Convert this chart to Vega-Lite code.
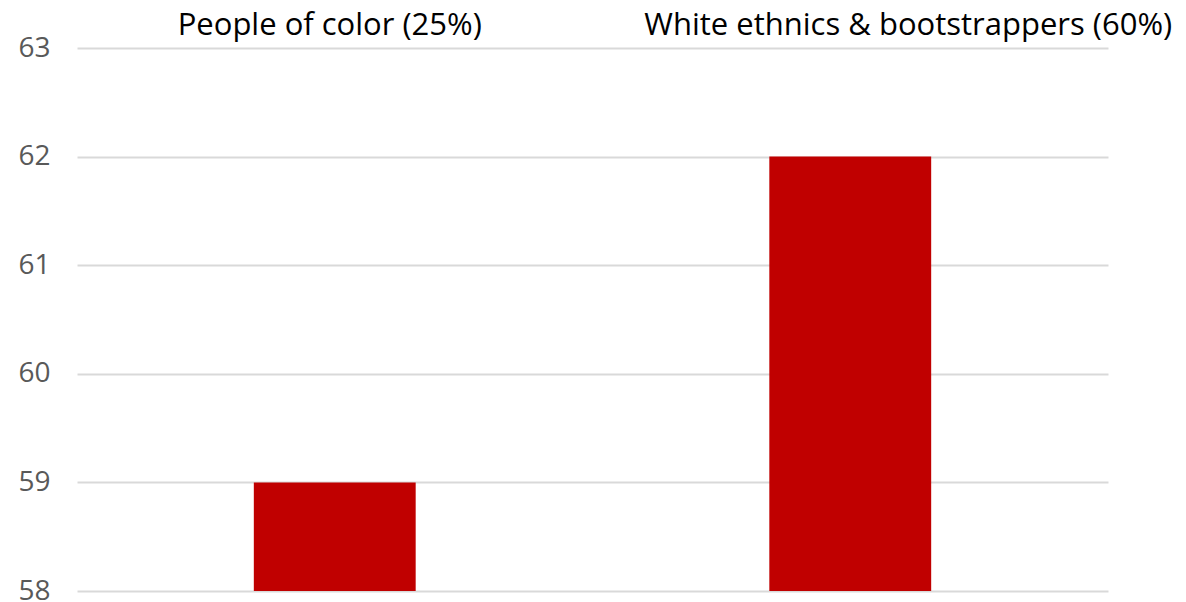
{
  "$schema": "https://vega.github.io/schema/vega-lite/v6.json",
  "width": 1031,
  "height": 543,
  "autosize": {"type": "none"},
  "padding": {"left": 77, "top": 48, "right": 78, "bottom": 11},
  "background": "white",
  "config": {"view": {"stroke": null}, "font": "Open Sans"},
  "data": {"values": [
    {"group": "People of color (25%)", "value": 59},
    {"group": "White ethnics & bootstrappers (60%)", "value": 62}
  ]},
  "mark": {"type": "bar", "color": "#C00000"},
  "encoding": {
    "x": {
      "field": "group", "type": "nominal", "sort": null,
      "scale": {"paddingInner": 0.686, "paddingOuter": 0.343},
      "axis": {
        "orient": "top", "title": null, "domain": false, "ticks": false, "labelAngle": 0,
        "labelFont": "Open Sans", "labelFontSize": 31, "labelFontWeight": 400, "labelColor": "#000000", "labelPadding": 7,
        "labelLimit": 0, "labelOverlap": false,
        "labelOffset": {"condition": {"test": "datum.value == 'People of color (25%)'", "value": -5}, "value": 58}
      }
    },
    "y": {
      "field": "value", "type": "quantitative",
      "scale": {"domain": [58, 63], "zero": false, "nice": false},
      "axis": {
        "title": null, "domain": false, "ticks": false, "values": [58, 59, 60, 61, 62, 63],
        "labelFont": "Open Sans", "labelFontSize": 28, "labelFontWeight": 400, "labelColor": "#595959", "labelPadding": 27,
        "gridColor": "#d9d9d9", "gridWidth": 2
      }
    },
    "y2": {"datum": 58}
  }
}
